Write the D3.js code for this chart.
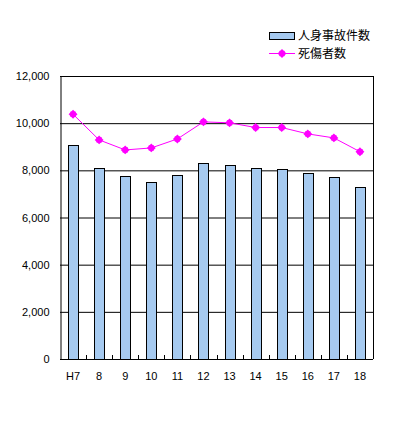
<!DOCTYPE html>
<html><head><meta charset="utf-8">
<script src="https://cdn.jsdelivr.net/npm/d3@7"></script>
<style>body{margin:0;background:#fff}svg{display:block}</style>
</head><body>
<script>
const categories = ["H7","8","9","10","11","12","13","14","15","16","17","18"];
const accidents = [9060,8085,7745,7500,7790,8310,8215,8085,8045,7870,7700,7280];
const casualties = [10380,9290,8865,8950,9330,10055,10015,9815,9815,9545,9375,8790];
const yTicks = [0,2000,4000,6000,8000,10000,12000];
const seriesNames = ["人身事故件数","死傷者数"];

const W=394,H=425;
const m={l:60,r:21,t:76,b:66};
const svg=d3.select("body").append("svg").attr("width",W).attr("height",H);
const x=d3.scaleBand().domain(categories).range([m.l,W-m.r]);
const y=d3.scaleLinear().domain([0,12000]).range([H-m.b,m.t]);
const font="'Liberation Sans', Arial, sans-serif";

// gridlines
svg.append("g").selectAll("line").data(yTicks).join("line")
 .attr("x1",m.l).attr("x2",W-m.r).attr("y1",d=>y(d)+0.5).attr("y2",d=>y(d)+0.5)
 .attr("stroke","#000").attr("stroke-width",1);
// right border
svg.append("line").attr("x1",W-m.r+0.5).attr("x2",W-m.r+0.5).attr("y1",y(12000)).attr("y2",y(0))
 .attr("stroke","#000");

// bars
const bw=10;
svg.append("g").selectAll("rect").data(accidents).join("rect")
 .attr("x",(d,i)=>Math.round(x(categories[i])+x.bandwidth()/2-bw/2)+0.5)
 .attr("y",d=>Math.round(y(d))+0.5)
 .attr("width",bw).attr("height",d=>Math.round(y(0))-Math.round(y(d)))
 .attr("fill","#A6CAF0").attr("stroke","#000").attr("stroke-width",1);

// axes
const yAxis=svg.append("g").attr("transform",`translate(${m.l+0.5},0)`)
 .call(d3.axisLeft(y).tickValues(yTicks).tickFormat(d3.format(",")).tickSize(0).tickPadding(11));
yAxis.select(".domain").attr("stroke","#000");
yAxis.selectAll("text").attr("font-family",font).attr("font-size","11px").attr("fill","#000");

const xAxis=svg.append("g").attr("transform",`translate(0,${y(0)+0.5})`)
 .call(d3.axisBottom(x).tickSize(0).tickPadding(13));
xAxis.select(".domain").remove();
xAxis.selectAll("text").attr("font-family",font).attr("font-size","11px").attr("fill","#000");
// category boundary ticks (inside)
svg.append("g").selectAll("line").data(categories.slice(1)).join("line")
 .attr("x1",d=>Math.round(x(d))+0.5).attr("x2",d=>Math.round(x(d))+0.5)
 .attr("y1",y(0)).attr("y2",y(0)-4).attr("stroke","#000");

// line
const cx=(d,i)=>x(categories[i])+x.bandwidth()/2;
svg.append("path").datum(casualties)
 .attr("d",d3.line().x(cx).y(d=>y(d)))
 .attr("fill","none").attr("stroke","#FF00FF").attr("stroke-width",1);
const diamond=d3.symbol().type(d3.symbolDiamond2).size(50);
svg.append("g").selectAll("path").data(casualties).join("path")
 .attr("transform",(d,i)=>`translate(${cx(d,i)},${y(d)})`)
 .attr("d",d3.symbol().type(d3.symbolSquare).size(28)).attr("fill","#FF00FF")
 .clone().attr("d",diamond).attr("transform",(d,i)=>`translate(${cx(d,i)},${y(d)})`);

// legend
const lg=svg.append("g");
lg.append("rect").attr("x",269.5).attr("y",32.5).attr("width",25).attr("height",7)
 .attr("fill","#A6CAF0").attr("stroke","#000");
lg.append("text").attr("x",298).attr("y",40).text(seriesNames[0])
 .attr("font-family","'Noto Sans CJK JP', sans-serif").attr("font-size","12px");
lg.append("line").attr("x1",269).attr("x2",295).attr("y1",53.5).attr("y2",53.5).attr("stroke","#FF00FF");
lg.append("path").attr("transform","translate(282,53.5)").attr("d",d3.symbol().type(d3.symbolSquare).size(28)).attr("fill","#FF00FF");
lg.append("path").attr("transform","translate(282,53.5)").attr("d",diamond).attr("fill","#FF00FF");
lg.append("text").attr("x",298).attr("y",58).text(seriesNames[1])
 .attr("font-family","'Noto Sans CJK JP', sans-serif").attr("font-size","12px");
</script>
</body></html>
